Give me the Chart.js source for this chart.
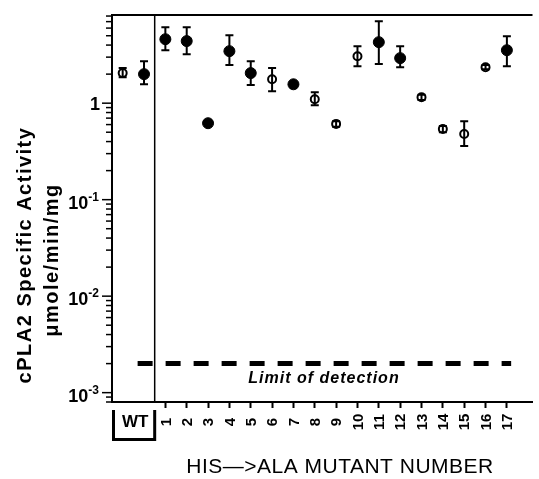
<!DOCTYPE html>
<html>
<head>
<meta charset="utf-8">
<script src="https://cdn.jsdelivr.net/npm/chart.js@4"></script>
<style>
  html, body { margin: 0; padding: 0; background: #fff; }
  #wrap { width: 539px; height: 479px; position: relative; }
</style>
</head>
<body>
<div id="wrap"><canvas id="activityChart"></canvas></div>
<script>
// His->Ala mutants, specific activity in umole/min/mg
const mutants = [1, 2, 3, 4, 5, 6, 7, 8, 9, 10, 11, 12, 13, 14, 15, 16, 17];
const activity = [4.6, 4.4, 0.62, 3.46, 2.05, 1.77, 1.57, 1.10, 0.61, 3.07, 4.29, 2.93, 1.15, 0.54, 0.48, 2.36, 3.54];
const errLow  = [3.54, 3.22, null, 2.48, 1.54, 1.33, null, 0.95, 0.57, 2.42, 2.54, 2.36, 1.08, 0.50, 0.36, 2.25, 2.42];
const errHigh = [6.13, 6.13, null, 5.07, 2.72, 2.31, null, 1.30, 0.65, 3.90, 7.08, 3.90, 1.22, 0.58, 0.65, 2.48, 4.95];
const filled  = [true, true, true, true, true, false, true, false, false, false, true, true, false, false, false, false, true];

// wild type (two preparations)
const wtX = [-1, 0];
const wtActivity = [2.05, 2.0];
const wtLow = [1.86, 1.57];
const wtHigh = [2.31, 2.72];
const wtFilled = [false, true];

const detectionLimit = 0.002;
const limitSpan = [-0.3, 17.2];

const yTickValues = [1, 0.1, 0.01, 0.001];
const yTickExp = ['', '-1', '-2', '-3'];

// build point lists
const filledPts = [];
const openPts = [];
wtX.forEach((x, i) => {
    const p = { x: x, y: wtActivity[i], lo: wtLow[i], hi: wtHigh[i] };
    (wtFilled[i] ? filledPts : openPts).push(p);
});
mutants.forEach((m, i) => {
    const p = { x: m, y: activity[i], lo: errLow[i], hi: errHigh[i] };
    (filled[i] ? filledPts : openPts).push(p);
});

const FONT = "'Liberation Sans', Arial, sans-serif";

// error bars, frame, tick marks and all the texts
const decorPlugin = {
    id: 'decor',
    afterDatasetsDraw(chart) {
        const ctx = chart.ctx;
        const xs = chart.scales.x, ys = chart.scales.y;
        ctx.save();
        ctx.strokeStyle = '#000';
        ctx.lineWidth = 2;
        [0, 1].forEach(di => {
            chart.data.datasets[di].data.forEach(p => {
                if (p.lo == null) return;
                const px = xs.getPixelForValue(p.x);
                const y1 = ys.getPixelForValue(p.hi);
                const y2 = ys.getPixelForValue(p.lo);
                ctx.beginPath();
                ctx.moveTo(px, y1); ctx.lineTo(px, y2);
                ctx.moveTo(px - 4, y1); ctx.lineTo(px + 4, y1);
                ctx.moveTo(px - 4, y2); ctx.lineTo(px + 4, y2);
                ctx.stroke();
            });
        });
        ctx.restore();
    },
    afterDraw(chart) {
        const ctx = chart.ctx;
        const area = chart.chartArea;
        const xs = chart.scales.x, ys = chart.scales.y;
        ctx.save();
        ctx.strokeStyle = '#000';
        ctx.fillStyle = '#000';

        // top frame line
        ctx.lineWidth = 2;
        ctx.beginPath();
        ctx.moveTo(area.left, area.top);
        ctx.lineTo(area.right, area.top);
        ctx.stroke();

        // WT / mutant divider
        const dx = xs.getPixelForValue(0.5);
        ctx.lineWidth = 1.5;
        ctx.beginPath();
        ctx.moveTo(dx, area.top);
        ctx.lineTo(dx, area.bottom);
        ctx.stroke();

        // y tick marks (log, major longer)
        ctx.lineWidth = 1.5;
        for (let d = -4; d <= 1; d++) {
            for (let k = 1; k <= 9; k++) {
                const v = k * Math.pow(10, d);
                if (v < ys.min || v > ys.max) continue;
                const py = ys.getPixelForValue(v);
                const len = k === 1 ? 10 : 6;
                ctx.beginPath();
                ctx.moveTo(area.left - len, py);
                ctx.lineTo(area.left, py);
                ctx.stroke();
            }
        }

        // y tick labels with superscripts
        yTickValues.forEach((v, i) => {
            const py = ys.getPixelForValue(v);
            const right = 99;
            ctx.textBaseline = 'alphabetic';
            if (yTickExp[i] === '') {
                ctx.font = 'bold 18px ' + FONT;
                ctx.textAlign = 'right';
                ctx.fillText('1', right + 1, py + 7);
            } else {
                ctx.font = 'bold 12px ' + FONT;
                const sw = ctx.measureText(yTickExp[i]).width;
                ctx.textAlign = 'right';
                ctx.fillText(yTickExp[i], right, py + 1);
                ctx.font = 'bold 18px ' + FONT;
                ctx.fillText('10', right - sw, py + 9);
            }
        });

        // x tick labels, rotated
        ctx.font = 'bold 15px ' + FONT;
        ctx.textAlign = 'center';
        ctx.textBaseline = 'middle';
        mutants.forEach(m => {
            const px = xs.getPixelForValue(m);
            ctx.save();
            ctx.translate(px + 1, 422);
            ctx.rotate(-Math.PI / 2);
            ctx.fillText(String(m), 0, 0);
            ctx.restore();
        });

        // WT bracket
        const bl = xs.getPixelForValue(-1.5) + 1.5;
        const br = xs.getPixelForValue(0.5);
        ctx.lineWidth = 3;
        ctx.beginPath();
        ctx.moveTo(bl, 410);
        ctx.lineTo(bl, 439.5);
        ctx.lineTo(br, 439.5);
        ctx.lineTo(br, 410);
        ctx.stroke();
        ctx.font = 'bold 17px ' + FONT;
        ctx.textBaseline = 'alphabetic';
        ctx.fillText('WT', (bl + br) / 2 + 1, 427);

        // limit of detection label
        ctx.font = 'italic bold 16px ' + FONT;
        ctx.letterSpacing = '1px';
        ctx.fillText('Limit of detection', 324, 383);

        // axis titles
        ctx.font = '21px ' + FONT;
        ctx.letterSpacing = '0.5px';
        ctx.fillText('HIS\u2014>ALA MUTANT NUMBER', 340, 473);

        ctx.font = 'bold 20px ' + FONT;
        ctx.letterSpacing = '1.5px';
        ctx.save();
        ctx.translate(31, 255);
        ctx.rotate(-Math.PI / 2);
        ctx.fillText('cPLA2 Specific Activity', 0, 0);
        ctx.restore();
        ctx.save();
        ctx.translate(58, 260);
        ctx.rotate(-Math.PI / 2);
        ctx.fillText('\u03bcmole/min/mg', 0, 0);
        ctx.restore();

        ctx.restore();
    }
};

new Chart(document.getElementById('activityChart'), {
    type: 'scatter',
    data: {
        datasets: [{
            label: 'filled',
            data: filledPts,
            pointRadius: 5.5,
            borderWidth: 1,
            backgroundColor: '#000',
            borderColor: '#000'
        }, {
            label: 'open',
            data: openPts,
            pointRadius: 4,
            borderWidth: 2,
            backgroundColor: 'rgba(0,0,0,0)',
            borderColor: '#000'
        }, {
            label: 'limit',
            data: limitSpan.map(x => ({ x: x, y: detectionLimit })),
            showLine: true,
            pointRadius: 0,
            borderColor: '#000',
            borderWidth: 5,
            borderDash: [15, 13],
            borderCapStyle: 'butt'
        }]
    },
    options: {
        responsive: true,
        maintainAspectRatio: false,
        animation: false,
        layout: { padding: { top: 15, left: 0, right: 0, bottom: 0 } },
        plugins: {
            legend: { display: false },
            tooltip: { enabled: false }
        },
        scales: {
            x: {
                type: 'linear',
                min: -1.5,
                max: 18.2,
                afterBuildTicks: (scale) => { scale.ticks = mutants.map(v => ({ value: v })); },
                afterFit: (scale) => { scale.height = 77; },
                ticks: { display: false },
                grid: { drawOnChartArea: false, tickLength: 6, tickWidth: 2, tickColor: '#000' },
                border: { display: true, width: 2, color: '#000' }
            },
            y: {
                type: 'logarithmic',
                min: 0.0008,
                max: 8.2,
                afterFit: (scale) => { scale.width = 112; },
                ticks: { display: false },
                grid: { display: false },
                border: { display: true, width: 2, color: '#000' }
            }
        }
    },
    plugins: [decorPlugin]
});
</script>
</body>
</html>
